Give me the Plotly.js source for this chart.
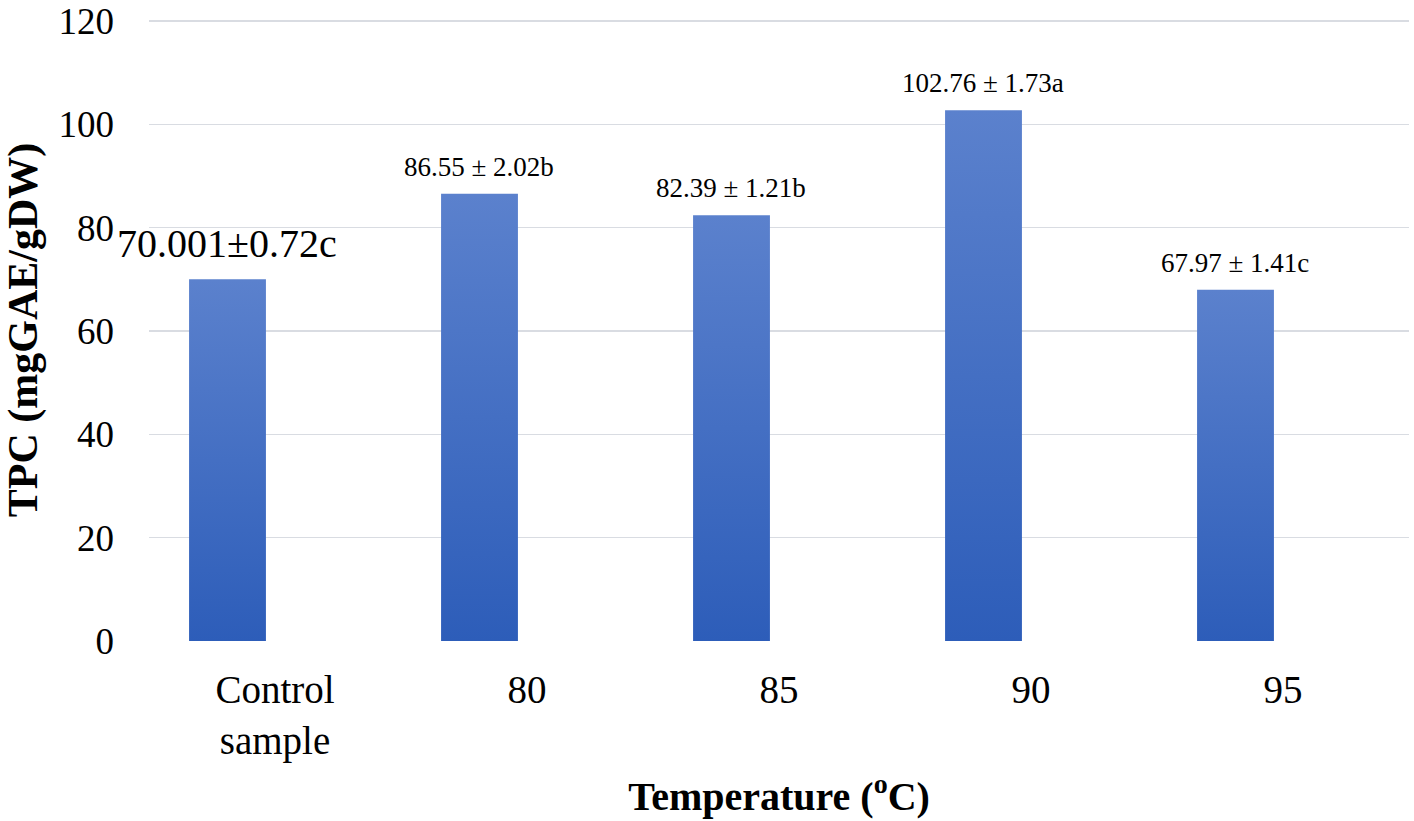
<!DOCTYPE html>
<html>
<head>
<meta charset="utf-8">
<script src="https://cdn.plot.ly/plotly-3.0.1.min.js"></script>
<style>
  html, body { margin: 0; padding: 0; background: #fff; }
  #chart { width: 1414px; height: 821px; }
</style>
</head>
<body>
<div id="chart"></div>
<script>
const categories = ['Control<br>sample', '80', '85', '90', '95']
const tpcValues = [70.001, 86.55, 82.39, 102.76, 67.97]
const valueLabels = ['70.001±0.72c', '86.55 ± 2.02b', '82.39 ± 1.21b', '102.76 ± 1.73a', '67.97 ± 1.41c']

const serif = 'Liberation Serif, Times New Roman, serif'
const gridColor = '#d9dce2'

const trace = {
  type: 'bar',
  x: categories,
  y: tpcValues,
  width: 0.305,
  offset: -0.341,
  marker: { color: '#4472c4', line: { width: 0 } },
  hoverinfo: 'skip',
}

// category axis: annotations use the category index, shifted onto the bar centre
const annotations = categories.map((cat, i) => ({
  x: i,
  y: tpcValues[i],
  xref: 'x',
  yref: 'y',
  xshift: -48,
  yshift: i === 0 ? 11 : 10,
  yanchor: 'bottom',
  showarrow: false,
  text: valueLabels[i],
  font: { family: serif, size: i === 0 ? 40 : 27, color: '#000' },
}))

const layout = {
  width: 1414,
  height: 821,
  margin: { l: 149, r: 5, t: 19, b: 180 },
  paper_bgcolor: '#fff',
  plot_bgcolor: '#fff',
  showlegend: false,
  font: { family: serif, color: '#000' },
  xaxis: {
    type: 'category',
    range: [-0.5, 4.5],
    showgrid: false,
    showline: false,
    zeroline: false,
    ticks: '',
    tickfont: { family: serif, size: 39, color: '#000' },
    ticklabelstandoff: 22,
    title: {
      text: 'Temperature (<sup>o</sup>C)',
      font: { family: serif, size: 40, weight: 'bold', color: '#000' },
      standoff: 20,
    },
  },
  yaxis: {
    range: [0, 120.4],
    tickvals: [0, 20, 40, 60, 80, 100, 120],
    showgrid: true,
    gridcolor: gridColor,
    gridwidth: 1.5,
    zeroline: false,
    showline: false,
    ticks: '',
    tickfont: { family: serif, size: 37, color: '#000' },
    ticklabelstandoff: 34,
    ticklabeloverflow: 'allow',
    title: {
      text: 'TPC (mgGAE/gDW)',
      font: { family: serif, size: 42, weight: 'bold', color: '#000' },
      standoff: 8,
    },
  },
  annotations,
}

const config = { displayModeBar: false, staticPlot: true }

// Excel-style vertical gradient on the bars
const applyGradient = (gd) => {
  const defs = gd.querySelector('.main-svg defs')
  if (!defs) return
  if (!defs.querySelector('#barGrad')) {
    const ns = 'http://www.w3.org/2000/svg'
    const grad = document.createElementNS(ns, 'linearGradient')
    grad.setAttribute('id', 'barGrad')
    grad.setAttribute('x1', '0')
    grad.setAttribute('y1', '0')
    grad.setAttribute('x2', '0')
    grad.setAttribute('y2', '1')
    ;[['0', '#5b81cd'], ['1', '#2d5db9']].forEach(([off, col]) => {
      const stop = document.createElementNS(ns, 'stop')
      stop.setAttribute('offset', off)
      stop.setAttribute('stop-color', col)
      grad.appendChild(stop)
    })
    defs.appendChild(grad)
  }
  gd.querySelectorAll('.bars .point path').forEach(p => {
    p.style.fill = 'url(#barGrad)'
  })
}

const gd = document.getElementById('chart')
Plotly.newPlot(gd, [trace], layout, config).then(() => {
  applyGradient(gd)
  gd.on('plotly_afterplot', () => applyGradient(gd))
})
</script>
</body>
</html>
